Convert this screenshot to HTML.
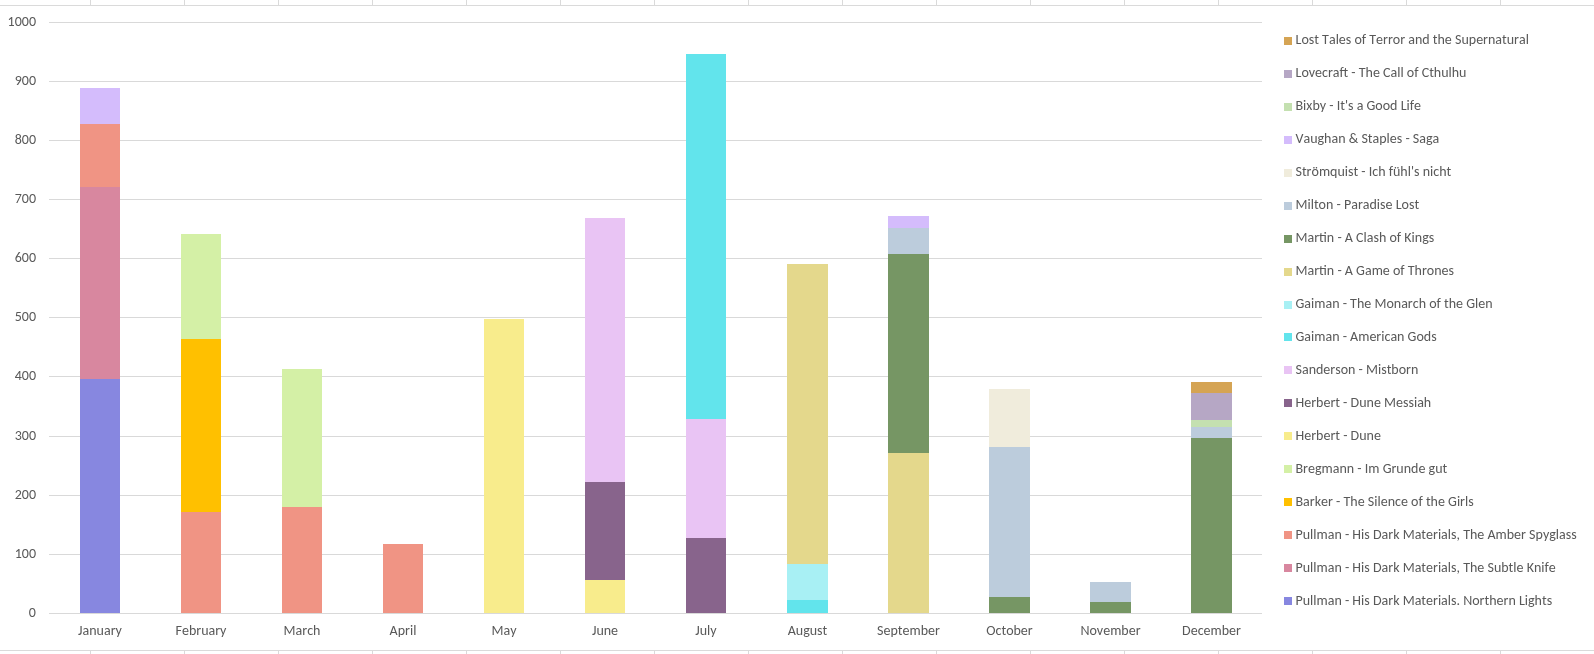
<!DOCTYPE html>
<html><head><meta charset="utf-8"><title>Chart</title>
<style>
html,body{margin:0;padding:0;background:#fff;}
body{width:1594px;height:654px;overflow:hidden;position:relative;}
svg{position:absolute;left:0;top:0;display:block;will-change:transform;}
text{font-family:Carlito,"Liberation Sans",sans-serif;font-size:14px;fill:#595959;font-kerning:none;}
</style></head><body>
<svg width="1594" height="654" viewBox="0 0 1594 654" shape-rendering="crispEdges">
<rect x="0" y="0" width="1594" height="654" fill="#ffffff"/>

<g fill="#DADADA">
<rect x="0" y="5" width="1594" height="1"/>
<rect x="0" y="650" width="1594" height="1"/>
<rect x="90" y="0" width="1" height="5"/>
<rect x="90" y="651" width="1" height="3"/>
<rect x="184" y="0" width="1" height="5"/>
<rect x="184" y="651" width="1" height="3"/>
<rect x="278" y="0" width="1" height="5"/>
<rect x="278" y="651" width="1" height="3"/>
<rect x="372" y="0" width="1" height="5"/>
<rect x="372" y="651" width="1" height="3"/>
<rect x="466" y="0" width="1" height="5"/>
<rect x="466" y="651" width="1" height="3"/>
<rect x="560" y="0" width="1" height="5"/>
<rect x="560" y="651" width="1" height="3"/>
<rect x="654" y="0" width="1" height="5"/>
<rect x="654" y="651" width="1" height="3"/>
<rect x="748" y="0" width="1" height="5"/>
<rect x="748" y="651" width="1" height="3"/>
<rect x="842" y="0" width="1" height="5"/>
<rect x="842" y="651" width="1" height="3"/>
<rect x="936" y="0" width="1" height="5"/>
<rect x="936" y="651" width="1" height="3"/>
<rect x="1030" y="0" width="1" height="5"/>
<rect x="1030" y="651" width="1" height="3"/>
<rect x="1124" y="0" width="1" height="5"/>
<rect x="1124" y="651" width="1" height="3"/>
<rect x="1218" y="0" width="1" height="5"/>
<rect x="1218" y="651" width="1" height="3"/>
<rect x="1312" y="0" width="1" height="5"/>
<rect x="1312" y="651" width="1" height="3"/>
<rect x="1406" y="0" width="1" height="5"/>
<rect x="1406" y="651" width="1" height="3"/>
<rect x="1500" y="0" width="1" height="5"/>
<rect x="1500" y="651" width="1" height="3"/>
</g>
<g fill="#D9D9D9">
<rect x="49" y="22" width="1213" height="1"/>
<rect x="49" y="81" width="1213" height="1"/>
<rect x="49" y="140" width="1213" height="1"/>
<rect x="49" y="199" width="1213" height="1"/>
<rect x="49" y="258" width="1213" height="1"/>
<rect x="49" y="317" width="1213" height="1"/>
<rect x="49" y="376" width="1213" height="1"/>
<rect x="49" y="436" width="1213" height="1"/>
<rect x="49" y="495" width="1213" height="1"/>
<rect x="49" y="554" width="1213" height="1"/>
<rect x="49" y="613" width="1213" height="1"/>
</g>
<g>
<rect x="80" y="379" width="40" height="234" fill="#8787E0"/>
<rect x="80" y="187" width="40" height="192" fill="#D8879F"/>
<rect x="80" y="124" width="40" height="63" fill="#F09484"/>
<rect x="80" y="88" width="40" height="36" fill="#D4BCFC"/>
<rect x="181" y="512" width="40" height="101" fill="#F09484"/>
<rect x="181" y="339" width="40" height="173" fill="#FFC000"/>
<rect x="181" y="234" width="40" height="105" fill="#D4F0A6"/>
<rect x="282" y="507" width="40" height="106" fill="#F09484"/>
<rect x="282" y="369" width="40" height="138" fill="#D4F0A6"/>
<rect x="383" y="544" width="40" height="69" fill="#F09484"/>
<rect x="484" y="319" width="40" height="294" fill="#F8EC8C"/>
<rect x="585" y="580" width="40" height="33" fill="#F8EC8C"/>
<rect x="585" y="482" width="40" height="98" fill="#88648C"/>
<rect x="585" y="218" width="40" height="264" fill="#E9C4F4"/>
<rect x="686" y="538" width="40" height="75" fill="#88648C"/>
<rect x="686" y="419" width="40" height="119" fill="#E9C4F4"/>
<rect x="686" y="54" width="40" height="365" fill="#62E4EC"/>
<rect x="787" y="600" width="41" height="13" fill="#62E4EC"/>
<rect x="787" y="564" width="41" height="36" fill="#A8F0F4"/>
<rect x="787" y="264" width="41" height="300" fill="#E4D88C"/>
<rect x="888" y="453" width="41" height="160" fill="#E4D88C"/>
<rect x="888" y="254" width="41" height="199" fill="#769664"/>
<rect x="888" y="228" width="41" height="26" fill="#BCCCDC"/>
<rect x="888" y="216" width="41" height="12" fill="#D4BCFC"/>
<rect x="989" y="597" width="41" height="16" fill="#769664"/>
<rect x="989" y="447" width="41" height="150" fill="#BCCCDC"/>
<rect x="989" y="389" width="41" height="58" fill="#F0ECDC"/>
<rect x="1090" y="602" width="41" height="11" fill="#769664"/>
<rect x="1090" y="582" width="41" height="20" fill="#BCCCDC"/>
<rect x="1191" y="438" width="41" height="175" fill="#769664"/>
<rect x="1191" y="427" width="41" height="11" fill="#BCCCDC"/>
<rect x="1191" y="420" width="41" height="7" fill="#C4E0B0"/>
<rect x="1191" y="393" width="41" height="27" fill="#B6A7C5"/>
<rect x="1191" y="382" width="41" height="11" fill="#D5A454"/>
</g>
<g text-anchor="end">
<text x="36" y="26" textLength="28.39" lengthAdjust="spacingAndGlyphs">1000</text>
<text x="36" y="85" textLength="21.30" lengthAdjust="spacingAndGlyphs">900</text>
<text x="36" y="144" textLength="21.30" lengthAdjust="spacingAndGlyphs">800</text>
<text x="36" y="203" textLength="21.30" lengthAdjust="spacingAndGlyphs">700</text>
<text x="36" y="262" textLength="21.30" lengthAdjust="spacingAndGlyphs">600</text>
<text x="36" y="321" textLength="21.30" lengthAdjust="spacingAndGlyphs">500</text>
<text x="36" y="380" textLength="21.30" lengthAdjust="spacingAndGlyphs">400</text>
<text x="36" y="440" textLength="21.30" lengthAdjust="spacingAndGlyphs">300</text>
<text x="36" y="499" textLength="21.30" lengthAdjust="spacingAndGlyphs">200</text>
<text x="36" y="558" textLength="21.30" lengthAdjust="spacingAndGlyphs">100</text>
<text x="36" y="617" textLength="7.11" lengthAdjust="spacingAndGlyphs">0</text>
</g>
<g text-anchor="middle">
<text x="100.0" y="635" textLength="43.81" lengthAdjust="spacingAndGlyphs">January</text>
<text x="201.0" y="635" textLength="50.92" lengthAdjust="spacingAndGlyphs">February</text>
<text x="302.0" y="635" textLength="36.84" lengthAdjust="spacingAndGlyphs">March</text>
<text x="403.0" y="635" textLength="26.77" lengthAdjust="spacingAndGlyphs">April</text>
<text x="504.0" y="635" textLength="25.02" lengthAdjust="spacingAndGlyphs">May</text>
<text x="605.0" y="635" textLength="26.14" lengthAdjust="spacingAndGlyphs">June</text>
<text x="706.0" y="635" textLength="21.38" lengthAdjust="spacingAndGlyphs">July</text>
<text x="807.5" y="635" textLength="39.58" lengthAdjust="spacingAndGlyphs">August</text>
<text x="908.5" y="635" textLength="62.80" lengthAdjust="spacingAndGlyphs">September</text>
<text x="1009.5" y="635" textLength="46.47" lengthAdjust="spacingAndGlyphs">October</text>
<text x="1110.5" y="635" textLength="60.11" lengthAdjust="spacingAndGlyphs">November</text>
<text x="1211.5" y="635" textLength="58.86" lengthAdjust="spacingAndGlyphs">December</text>
</g>
<g>
<rect x="1284" y="37" width="8" height="8" fill="#D5A454"/>
<text x="1295.5" y="44" textLength="233.41" lengthAdjust="spacingAndGlyphs">Lost Tales of Terror and the Supernatural</text>
<rect x="1284" y="70" width="8" height="8" fill="#B6A7C5"/>
<text x="1295.5" y="77" textLength="170.98" lengthAdjust="spacingAndGlyphs">Lovecraft - The Call of Cthulhu</text>
<rect x="1284" y="103" width="8" height="8" fill="#C4E0B0"/>
<text x="1295.5" y="110" textLength="125.48" lengthAdjust="spacingAndGlyphs">Bixby - It's a Good Life</text>
<rect x="1284" y="136" width="8" height="8" fill="#D4BCFC"/>
<text x="1295.5" y="143" textLength="143.78" lengthAdjust="spacingAndGlyphs">Vaughan &amp; Staples - Saga</text>
<rect x="1284" y="169" width="8" height="8" fill="#F0ECDC"/>
<text x="1295.5" y="176" textLength="155.70" lengthAdjust="spacingAndGlyphs">Strömquist - Ich fühl's nicht</text>
<rect x="1284" y="202" width="8" height="8" fill="#BCCCDC"/>
<text x="1295.5" y="209" textLength="123.58" lengthAdjust="spacingAndGlyphs">Milton - Paradise Lost</text>
<rect x="1284" y="235" width="8" height="8" fill="#769664"/>
<text x="1295.5" y="242" textLength="138.70" lengthAdjust="spacingAndGlyphs">Martin - A Clash of Kings</text>
<rect x="1284" y="268" width="8" height="8" fill="#E4D88C"/>
<text x="1295.5" y="275" textLength="158.52" lengthAdjust="spacingAndGlyphs">Martin - A Game of Thrones</text>
<rect x="1284" y="301" width="8" height="8" fill="#A8F0F4"/>
<text x="1295.5" y="308" textLength="197.03" lengthAdjust="spacingAndGlyphs">Gaiman - The Monarch of the Glen</text>
<rect x="1284" y="333" width="8" height="8" fill="#62E4EC"/>
<text x="1295.5" y="341" textLength="141.16" lengthAdjust="spacingAndGlyphs">Gaiman - American Gods</text>
<rect x="1284" y="366" width="8" height="8" fill="#E9C4F4"/>
<text x="1295.5" y="374" textLength="122.86" lengthAdjust="spacingAndGlyphs">Sanderson - Mistborn</text>
<rect x="1284" y="399" width="8" height="8" fill="#88648C"/>
<text x="1295.5" y="407" textLength="135.70" lengthAdjust="spacingAndGlyphs">Herbert - Dune Messiah</text>
<rect x="1284" y="432" width="8" height="8" fill="#F8EC8C"/>
<text x="1295.5" y="440" textLength="85.38" lengthAdjust="spacingAndGlyphs">Herbert - Dune</text>
<rect x="1284" y="465" width="8" height="8" fill="#D4F0A6"/>
<text x="1295.5" y="473" textLength="151.70" lengthAdjust="spacingAndGlyphs">Bregmann - Im Grunde gut</text>
<rect x="1284" y="498" width="8" height="8" fill="#FFC000"/>
<text x="1295.5" y="506" textLength="178.19" lengthAdjust="spacingAndGlyphs">Barker - The Silence of the Girls</text>
<rect x="1284" y="531" width="8" height="8" fill="#F09484"/>
<text x="1295.5" y="539" textLength="281.20" lengthAdjust="spacingAndGlyphs">Pullman - His Dark Materials, The Amber Spyglass</text>
<rect x="1284" y="564" width="8" height="8" fill="#D8879F"/>
<text x="1295.5" y="572" textLength="260.23" lengthAdjust="spacingAndGlyphs">Pullman - His Dark Materials, The Subtle Knife</text>
<rect x="1284" y="597" width="8" height="8" fill="#8787E0"/>
<text x="1295.5" y="605" textLength="256.62" lengthAdjust="spacingAndGlyphs">Pullman - His Dark Materials. Northern Lights</text>
</g>
</svg>
</body></html>
